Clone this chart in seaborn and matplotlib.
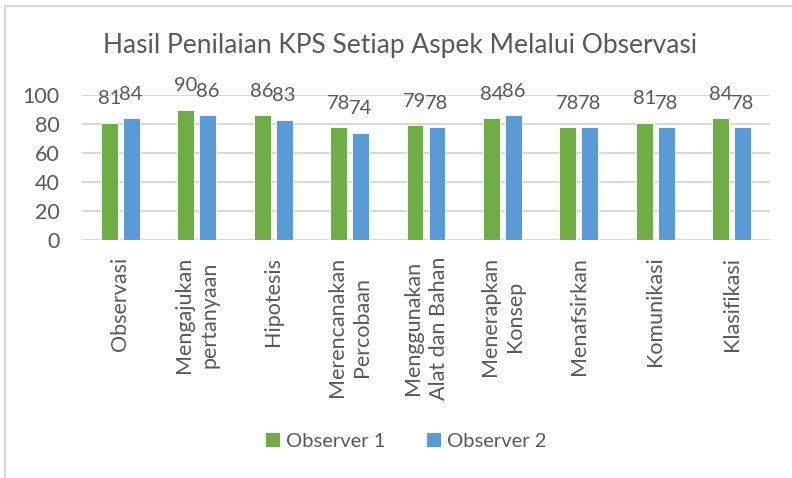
import pandas as pd
import seaborn as sns
import matplotlib.pyplot as plt
from matplotlib.lines import Line2D

# Data
aspek = ["Observasi", "Mengajukan\npertanyaan", "Hipotesis", "Merencanakan\nPercobaan",
         "Menggunakan\nAlat dan Bahan", "Menerapkan\nKonsep", "Menafsirkan",
         "Komunikasi", "Klasifikasi"]
observer1 = [81, 90, 86, 78, 79, 84, 78, 81, 84]
observer2 = [84, 86, 83, 74, 78, 86, 78, 78, 78]
seri = ["Observer 1", "Observer 2"]
warna = ["#70AD47", "#5B9BD5"]

df = pd.DataFrame({
    "Aspek": aspek * 2,
    "Observer": [seri[0]] * len(aspek) + [seri[1]] * len(aspek),
    "Nilai": observer1 + observer2,
})

sns.set_style("white")
plt.rcParams["font.family"] = ["Lato", "DejaVu Sans"]
teks = "#595959"
grid = "#D9D9D9"

fig = plt.figure(figsize=(7.92, 4.78), dpi=100)
ax = fig.add_axes([82 / 792, 1 - 240 / 478, (770 - 82) / 792, 145 / 478])

sns.barplot(data=df, x="Aspek", y="Nilai", hue="Observer", palette=warna,
            width=0.576, gap=0.23, ax=ax, saturation=1, edgecolor="white",
            linewidth=0.6, zorder=3)

for cont in ax.containers:
    ax.bar_label(cont, padding=11, fontsize=14.5, color=teks)

ax.set_ylim(0, 100)
ax.set_yticks(range(0, 101, 20))
ax.set_xlim(-0.5, len(aspek) - 0.5)
ax.yaxis.grid(True, color=grid, linewidth=1.5, zorder=0)
ax.set_axisbelow(True)
for s in ax.spines.values():
    s.set_visible(False)
ax.axhline(0, color=grid, linewidth=1.5, zorder=1)
ax.set_xlabel("")
ax.set_ylabel("")
ax.tick_params(axis="y", length=0, pad=16, labelsize=15.5, labelcolor=teks)
ax.tick_params(axis="x", length=0, pad=12, labelsize=15.5, labelcolor=teks)
ax.set_xticks(range(len(aspek)))
ax.set_xticklabels(aspek, rotation=90, va="top", ha="center",
                   multialignment="center", linespacing=1.35)

fig.text(400 / 792, 1 - 45 / 478, "Hasil Penilaian KPS Setiap Aspek Melalui Observasi",
         ha="center", va="center", fontsize=19, color=teks)

leg = ax.legend(loc="center", bbox_to_anchor=(406 / 792, 1 - 441 / 478),
                bbox_transform=fig.transFigure, ncol=2, frameon=False,
                fontsize=14.5, handlelength=0.75, handleheight=0.75, handletextpad=0.3,
                columnspacing=2.0, labelcolor=teks)

# bingkai grafik
fig.add_artist(Line2D([5 / 792, 1], [1 - 6 / 478, 1 - 6 / 478], color=grid, linewidth=1.5))
fig.add_artist(Line2D([5 / 792, 5 / 792], [0, 1 - 6 / 478], color=grid, linewidth=1.5))

fig.savefig("out.png", dpi=100)
